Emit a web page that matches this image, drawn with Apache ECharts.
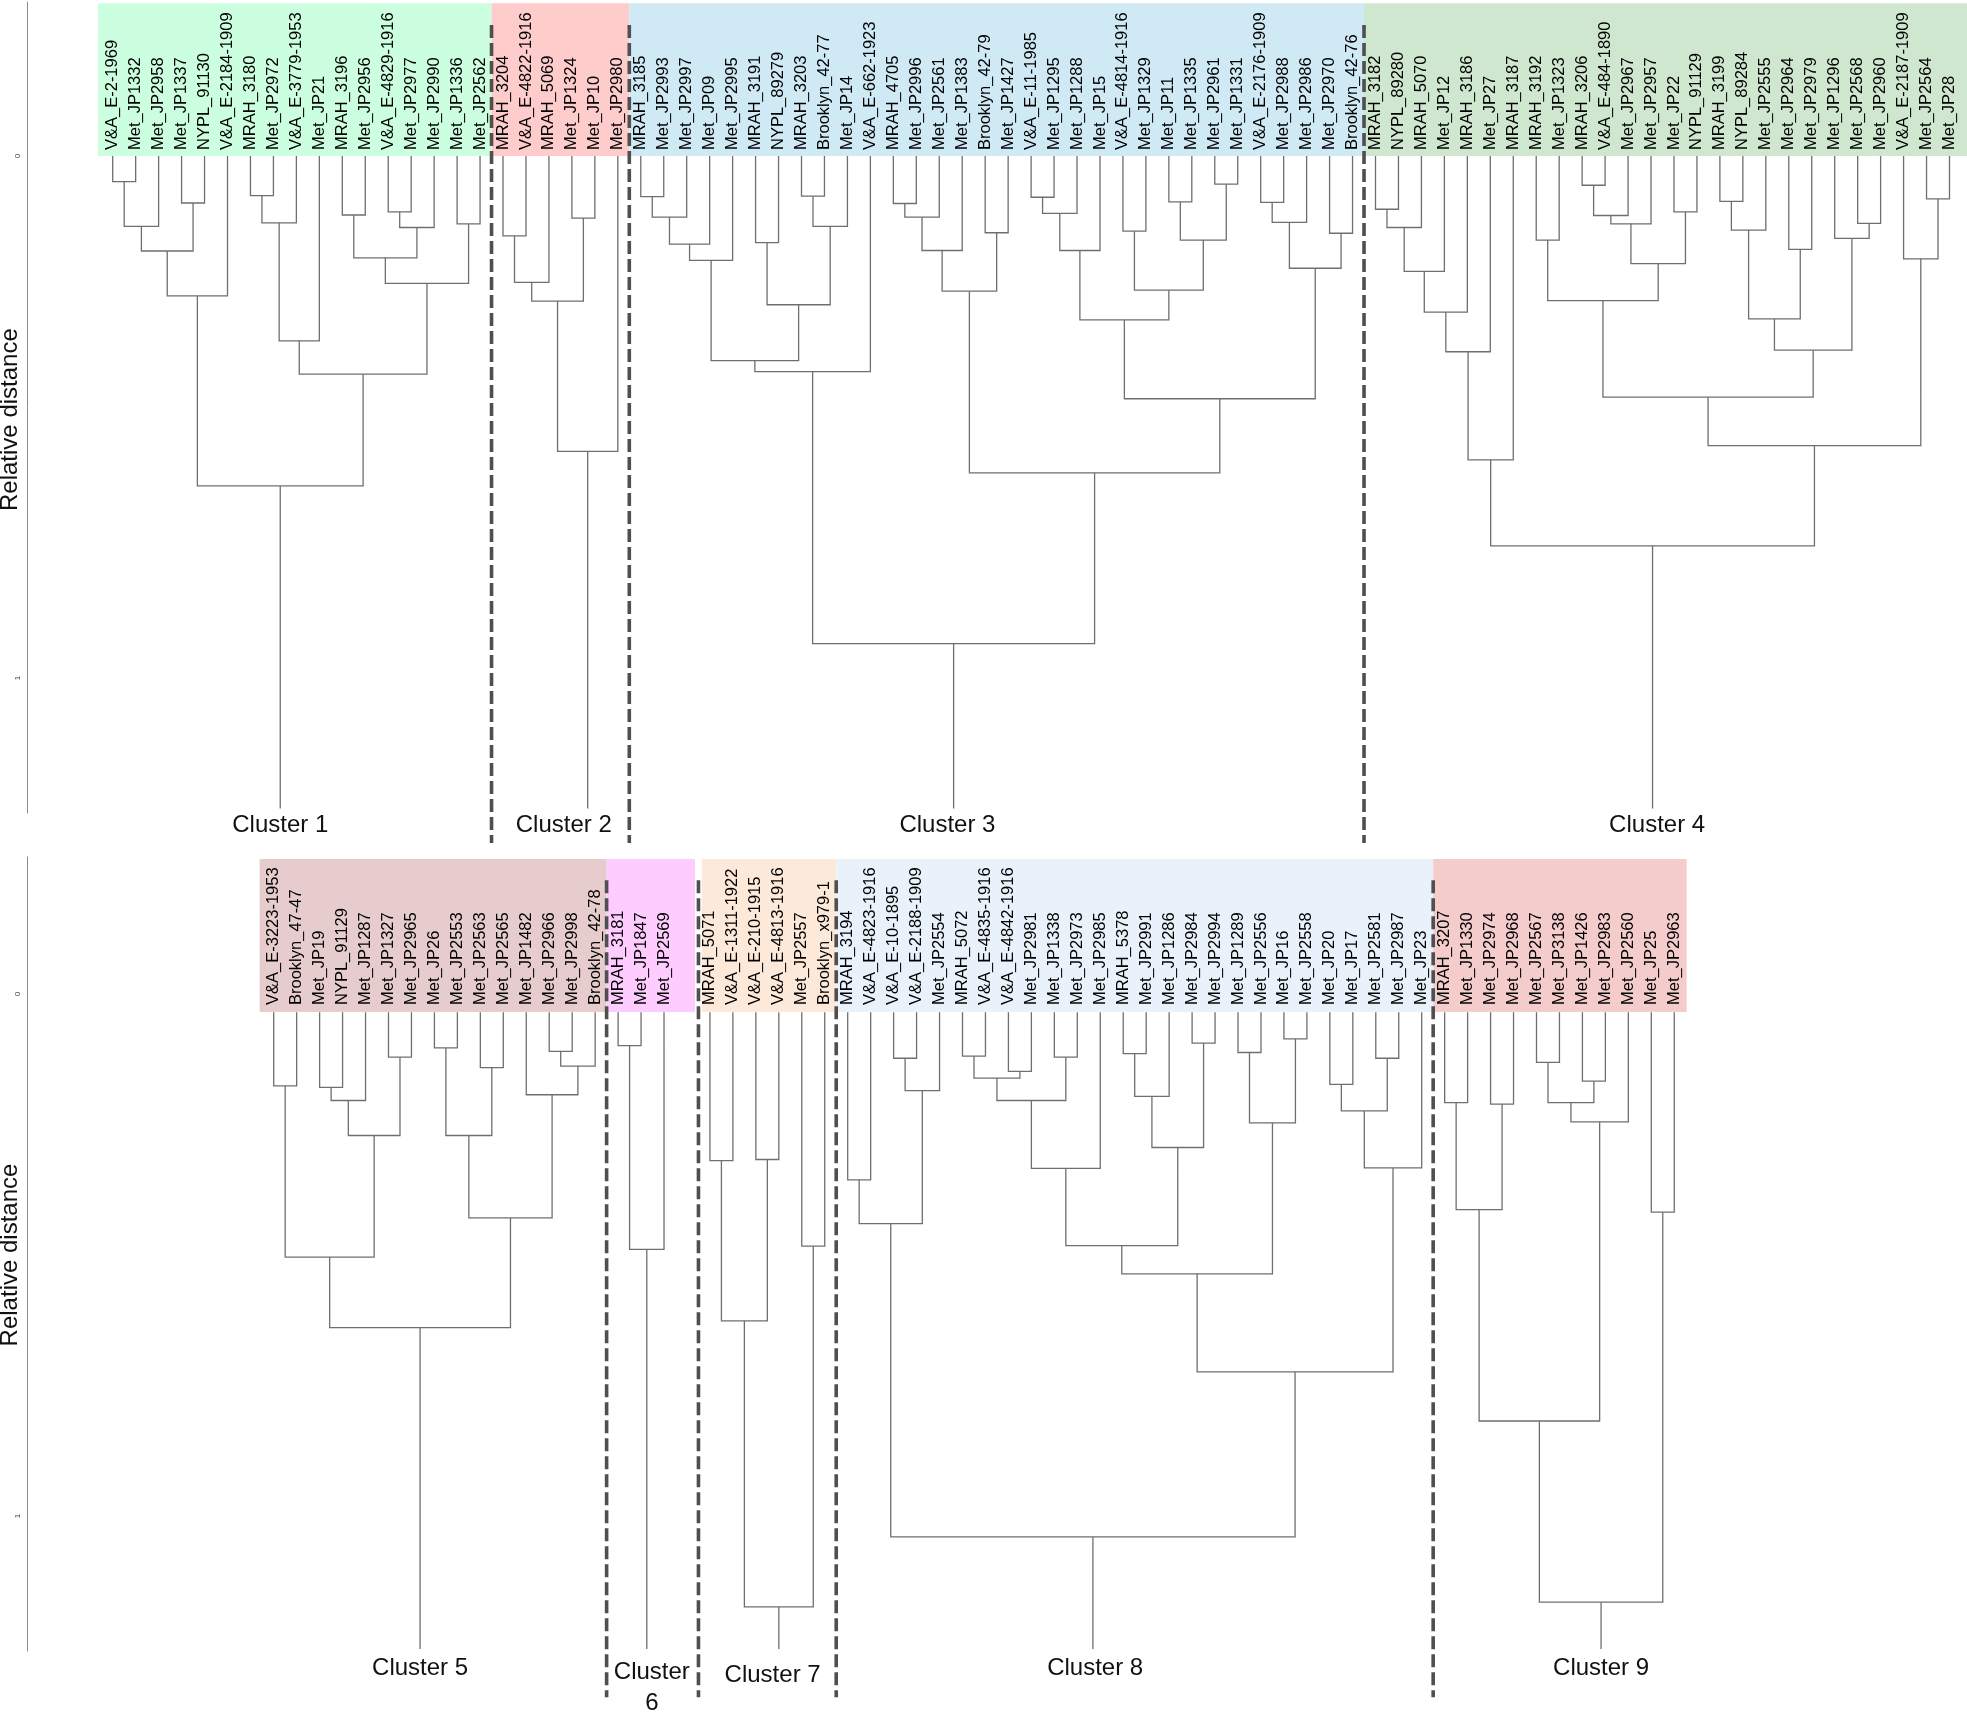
<!DOCTYPE html>
<html><head><meta charset="utf-8">
<script src="https://cdn.jsdelivr.net/npm/echarts@6/dist/echarts.min.js"></script>
<style>html,body{margin:0;padding:0;background:#fff}#c{width:1967px;height:1717px}</style>
</head><body><div id="c"></div>
<script>
// ---------- DATA ----------
const topLabels = [
 'V&A_E-2-1969','Met_JP1332','Met_JP2958','Met_JP1337','NYPL_91130','V&A_E-2184-1909','MRAH_3180','Met_JP2972','V&A_E-3779-1953','Met_JP21','MRAH_3196','Met_JP2956','V&A_E-4829-1916','Met_JP2977','Met_JP2990','Met_JP1336','Met_JP2562',
 'MRAH_3204','V&A_E-4822-1916','MRAH_5069','Met_JP1324','Met_JP10','Met_JP2980',
 'MRAH_3185','Met_JP2993','Met_JP2997','Met_JP09','Met_JP2995','MRAH_3191','NYPL_89279','MRAH_3203','Brooklyn_42-77','Met_JP14','V&A_E-662-1923','MRAH_4705','Met_JP2996','Met_JP2561','Met_JP1383','Brooklyn_42-79','Met_JP1427','V&A_E-11-1985','Met_JP1295','Met_JP1288','Met_JP15','V&A_E-4814-1916','Met_JP1329','Met_JP11','Met_JP1335','Met_JP2961','Met_JP1331','V&A_E-2176-1909','Met_JP2988','Met_JP2986','Met_JP2970','Brooklyn_42-76',
 'MRAH_3182','NYPL_89280','MRAH_5070','Met_JP12','MRAH_3186','Met_JP27','MRAH_3187','MRAH_3192','Met_JP1323','MRAH_3206','V&A_E-484-1890','Met_JP2967','Met_JP2957','Met_JP22','NYPL_91129','MRAH_3199','NYPL_89284','Met_JP2555','Met_JP2964','Met_JP2979','Met_JP1296','Met_JP2568','Met_JP2960','V&A_E-2187-1909','Met_JP2564','Met_JP28'
];
const bottomLabels = [
 'V&A_E-3223-1953','Brooklyn_47-47','Met_JP19','NYPL_91129','Met_JP1287','Met_JP1327','Met_JP2965','Met_JP26','Met_JP2553','Met_JP2563','Met_JP2565','Met_JP1482','Met_JP2966','Met_JP2998','Brooklyn_42-78',
 'MRAH_3181','Met_JP1847','Met_JP2569','',
 'MRAH_5071','V&A_E-1311-1922','V&A_E-210-1915','V&A_E-4813-1916','Met_JP2557','Brooklyn_x979-1',
 'MRAH_3194','V&A_E-4823-1916','V&A_E-10-1895','V&A_E-2188-1909','Met_JP2554','MRAH_5072','V&A_E-4835-1916','V&A_E-4842-1916','Met_JP2981','Met_JP1338','Met_JP2973','Met_JP2985','MRAH_5378','Met_JP2991','Met_JP1286','Met_JP2984','Met_JP2994','Met_JP1289','Met_JP2556','Met_JP16','Met_JP2558','Met_JP20','Met_JP17','Met_JP2581','Met_JP2987','Met_JP23',
 'MRAH_3207','Met_JP1330','Met_JP2974','Met_JP2968','Met_JP2567','Met_JP3138','Met_JP1426','Met_JP2983','Met_JP2560','Met_JP25','Met_JP2963'
];
const topClusterNames = ['Cluster 1','Cluster 2','Cluster 3','Cluster 4'];
const bottomClusterNames = ['Cluster 5','Cluster\n6','Cluster 7','Cluster 8','Cluster 9'];
const yTickValues = [0, 1];
const yTickLabels = ['0', '1'];
const yAxisTitle = 'Relative distance';

// dendrograms: [mergeHeight, left, right]; a number is a leaf (slot index)
const tree1 = [0.632,
  [0.268, [0.182, [0.135, [0.049, 0, 1], 2], [0.090, 3, 4]], 5],
  [0.418, [0.354, [0.128, [0.076, 6, 7], 8], 9],
          [0.244, [0.195, [0.113, 10, 11], [0.137, [0.107, 12, 13], 14]], [0.130, 15, 16]]]];
const tree2 = [0.566, [0.278, [0.242, [0.153, 17, 18], 19], [0.119, 20, 21]], 22];
const tree3 = [0.934,
  [0.413, [0.392, [0.200, [0.169, [0.117, [0.078, 23, 24], 25], 26], 27],
                  [0.285, [0.166, 28, 29], [0.135, [0.077, 30, 31], 32]]], 33],
  [0.607, [0.259, [0.181, [0.117, [0.091, 34, 35], 36], 37], [0.147, 38, 39]],
          [0.465, [0.314, [0.181, [0.110, [0.079, 40, 41], 42], 43],
                          [0.257, [0.144, 44, 45], [0.161, [0.088, 46, 47], [0.054, 48, 49]]]],
                  [0.215, [0.127, [0.089, 50, 51], 52], [0.148, 53, 54]]]]];
const tree4 = [0.747,
  [0.582, [0.375, [0.299, [0.221, [0.137, [0.102, 55, 56], 57], 58], 59], 60], 61],
  [0.555, [0.462, [0.277, [0.161, 62, 63], [0.206, [0.130, [0.114, [0.056, 64, 65], 66], 67], [0.107, 68, 69]]],
                  [0.372, [0.312, [0.142, [0.087, 70, 71], 72], [0.179, 73, 74]], [0.158, 75, [0.129, 76, 77]]]],
          [0.197, 78, [0.082, 79, 80]]]];
const tree5 = [0.639,
  [0.504, [0.176, 0, 1], [0.271, [0.204, [0.179, 2, 3], 4], [0.121, 5, 6]]],
  [0.429, [0.271, [0.103, 7, 8], [0.141, 9, 10]], [0.193, 11, [0.138, [0.110, 12, 13], 14]]]];
const tree6 = [0.489, [0.099, 15, 16], 17];
const tree7 = [1.174, [0.626, [0.319, 19, 20], [0.317, 21, 22]], [0.483, 23, 24]];
const tree8 = [1.040,
  [0.440, [0.356, 25, 26], [0.185, [0.123, 27, 28], 29]],
  [0.724, [0.536, [0.482, [0.334, [0.204, [0.161, [0.119, 30, 31], [0.148, 32, 33]], [0.121, 34, 35]], 36],
                          [0.294, [0.196, [0.114, 37, 38], 39], [0.094, 40, 41]]],
                  [0.247, [0.112, 42, 43], [0.086, 44, 45]]],
          [0.333, [0.224, [0.173, 46, 47], [0.123, 48, 49]], 50]]];
const tree9 = [1.165,
  [0.818, [0.413, [0.208, 51, 52], [0.211, 53, 54]],
          [0.245, [0.208, [0.131, 55, 56], [0.167, 57, 58]], 59]],
  [0.418, 60, 61]];
const topTrees = [tree1, tree2, tree3, tree4];
const bottomTrees = [tree5, tree6, tree7, tree8, tree9];
const topLeafBase = 0.0;
const bottomLeafBase = 0.035;

// ---------- STYLE / LAYOUT ----------
const FONT = '"Liberation Sans", Arial, sans-serif';
const SLOT = 22.96;
const topBoxes = [[-0.64, 16.5, '#ccffe0'], [16.5, 22.5, '#ffcccc'], [22.5, 54.5, '#cfe9f5'], [54.5, 80.8, '#cfe7cf']];
const bottomBoxes = [[-0.61, 14.5, '#e6cccc'], [14.5, 18.35, '#ffccff'], [18.64, 24.5, '#fde9d9'], [24.5, 50.5, '#e9f2fb'], [50.5, 61.54, '#f4cccc']];
const topSeps = [16.5, 22.5, 54.5];
const bottomSeps = [14.5, 18.5, 24.5, 50.5];
const topNameShift = [0, -1.04, -0.27, 0.2];
const bottomNameShift = [0, 0.22, -0.27, 0.1, 0];

const panels = [
  {labels: topLabels, trees: topTrees, base: topLeafBase, names: topClusterNames, boxes: topBoxes, seps: topSeps, nameShift: topNameShift,
   left: 112.7 - SLOT/2, top: 2, height: 811, ymin: -0.295, ymax: 1.2586, titleY: 0.505,
   boxTop: -0.2925, boxBot: 0.0, textY: -0.0115, sepTop: -0.251, sepBot: 1.316, nameY: [1.282,1.282,1.282,1.282], stemEnd: 1.25},
  {labels: bottomLabels, trees: bottomTrees, base: bottomLeafBase, names: bottomClusterNames, boxes: bottomBoxes, seps: bottomSeps, nameShift: bottomNameShift,
   left: 273.7 - SLOT/2, top: 857, height: 794, ymin: -0.2625, ymax: 1.2586, titleY: 0.5,
   boxTop: -0.2586, boxBot: 0.0345, textY: 0.021, sepTop: -0.218, sepBot: 1.347, nameY: [1.291,1.3285,1.305,1.291,1.291], stemEnd: 1.255}
];

function build(trees, base, stemEnd) {
  const segs = [], roots = [];
  function walk(n) {
    if (typeof n === 'number') return {x: n, h: base};
    const a = walk(n[1]), b = walk(n[2]);
    segs.push([[a.x, a.h], [a.x, n[0]], [b.x, n[0]], [b.x, b.h]]);
    return {x: (a.x + b.x) / 2, h: n[0]};
  }
  trees.forEach(t => { const r = walk(t); roots.push(r.x); segs.push([[r.x, r.h], [r.x, stemEnd]]); });
  return {segs, roots};
}

const grids = [], xAxes = [], yAxes = [], series = [];
panels.forEach((P, pi) => {
  const n = P.labels.length;
  grids.push({left: P.left, top: P.top, width: n * SLOT, height: P.height, outerBoundsMode: 'none', containLabel: false});
  xAxes.push({gridIndex: pi, type: 'value', min: -0.5, max: n - 0.5, show: false});
  yAxes.push({gridIndex: pi, type: 'value', inverse: true, min: P.ymin, max: P.ymax, position: 'left',
    offset: P.left - 27.6,
    axisLine: {show: true, onZero: false, lineStyle: {color: '#8c8c8c', width: 1}},
    axisTick: {show: false},
    splitLine: {show: false},
    axisLabel: {customValues: yTickValues, formatter: v => yTickLabels[yTickValues.indexOf(v)] ?? '', rotate: 90, fontSize: 8, color: '#444', margin: 6, fontFamily: FONT}
  });
  const {segs, roots} = build(P.trees, P.base, P.stemEnd);
  const ax = {xAxisIndex: pi, yAxisIndex: pi, silent: true, clip: false};
  series.push(Object.assign({type: 'custom', z: 1, data: P.boxes.map(b => [b[0], P.boxTop]),
    renderItem: (params, api) => {
      const b = P.boxes[params.dataIndex];
      const p0 = api.coord([b[0], P.boxTop]), p1 = api.coord([b[1], P.boxBot]);
      return {type: 'rect', shape: {x: p0[0], y: p0[1], width: p1[0] - p0[0], height: p1[1] - p0[1]}, style: {fill: b[2]}};
    }}, ax));
  series.push(Object.assign({type: 'custom', z: 3, data: segs.map(s => [s[0][0], s[0][1]]),
    renderItem: (params, api) => ({type: 'polyline',
      shape: {points: segs[params.dataIndex].map(p => api.coord(p))},
      style: {stroke: '#6f6f6f', lineWidth: 1.3, fill: 'none'}})}, ax));
  series.push(Object.assign({type: 'custom', z: 4, data: P.labels.map((l, i) => [i, P.textY]),
    renderItem: (params, api) => {
      const p = api.coord([api.value(0), api.value(1)]);
      return {type: 'text', x: p[0], y: p[1], rotation: Math.PI / 2,
        style: {text: P.labels[params.dataIndex], fill: '#000', fontSize: 16.5, fontFamily: FONT, align: 'left', verticalAlign: 'middle'}};
    }}, ax));
  series.push(Object.assign({type: 'custom', z: 5, data: P.seps.map(s => [s, P.sepTop]),
    renderItem: (params, api) => {
      const s = P.seps[params.dataIndex];
      const a = api.coord([s, P.sepTop]), b = api.coord([s, P.sepBot]);
      return {type: 'line', shape: {x1: a[0], y1: a[1], x2: b[0], y2: b[1]}, style: {stroke: '#4f4f4f', lineWidth: 3.6, lineDash: [13, 5]}};
    }}, ax));
  series.push(Object.assign({type: 'custom', z: 4, data: roots.map((r, i) => [r + P.nameShift[i], P.nameY[i]]),
    renderItem: (params, api) => {
      const p = api.coord([api.value(0), api.value(1)]);
      return {type: 'text', x: p[0], y: p[1],
        style: {text: P.names[params.dataIndex], fill: '#111', fontSize: 24, lineHeight: 31, fontFamily: FONT, align: 'center', verticalAlign: 'middle'}};
    }}, ax));
  // y-axis title, placed through the panel's y scale, 17.6px left of the axis line
  series.push(Object.assign({type: 'custom', z: 4, data: [[0, P.titleY]],
    renderItem: (params, api) => {
      const p = api.coord([0, api.value(1)]);
      return {type: 'text', x: 10.5, y: p[1], rotation: Math.PI / 2,
        style: {text: yAxisTitle, fill: '#111', fontSize: 24, fontFamily: FONT, align: 'center', verticalAlign: 'middle'}};
    }}, ax));
});

const chart = echarts.init(document.getElementById('c'), null, {renderer: 'canvas'});
chart.setOption({animation: false, backgroundColor: '#fff', grid: grids, xAxis: xAxes, yAxis: yAxes, series: series});
</script></body></html>
